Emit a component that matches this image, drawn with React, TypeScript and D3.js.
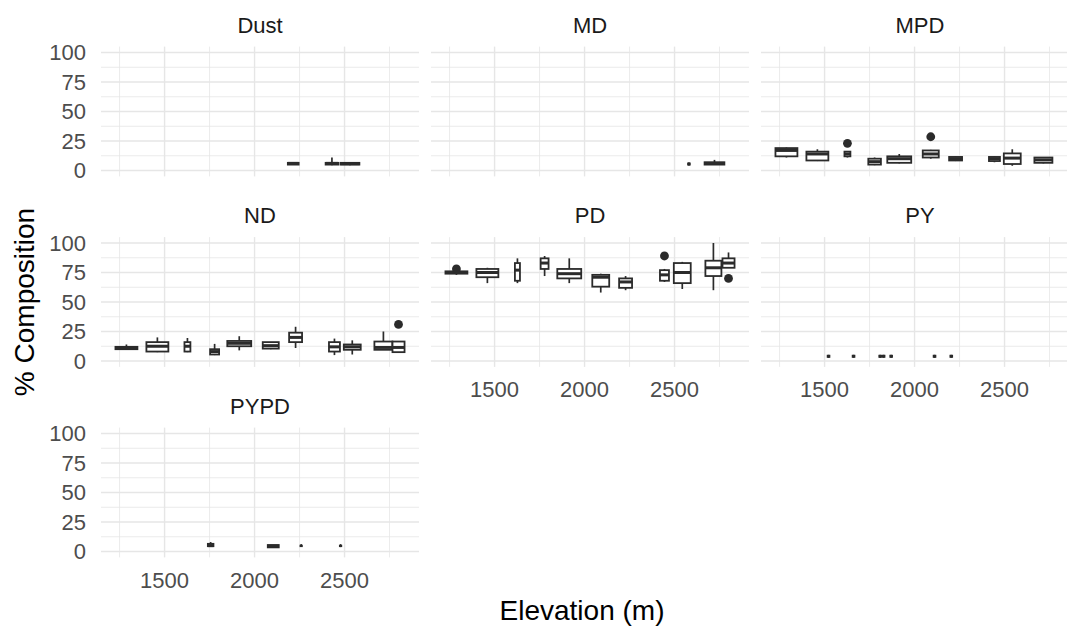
import React from "react";
import * as d3 from "d3";

type Box = { x: number; w: number; lo: number; q1: number; med: number; q3: number; hi: number; out?: number[] };

const panelNames = ["Dust", "MD", "MPD", "ND", "PD", "PY", "PYPD"];
const xTicks = [1500, 2000, 2500];
const xMinorTicks = [1250, 1750, 2250, 2750];
const yTicks = [0, 25, 50, 75, 100];
const yMinorTicks = [12.5, 37.5, 62.5, 87.5];

const dustBoxes: Box[] = [
  { x: 2215, w: 60, lo: 5, q1: 5, med: 6, q3: 6.5, hi: 7 },
  { x: 2430, w: 70, lo: 4.5, q1: 5, med: 6, q3: 6.5, hi: 11 },
  { x: 2530, w: 105, lo: 4.5, q1: 5, med: 5.8, q3: 6.5, hi: 7 },
];
const mdBoxes: Box[] = [
  { x: 2580, w: 10, lo: 4.5, q1: 5, med: 5.5, q3: 6, hi: 6.5 },
  { x: 2722, w: 110, lo: 4.7, q1: 5, med: 6, q3: 7, hi: 9 },
];
const mpdBoxes: Box[] = [
  { x: 1288, w: 122, lo: 11, q1: 12, med: 17, q3: 19, hi: 19.5 },
  { x: 1460, w: 122, lo: 8, q1: 8.5, med: 14, q3: 16, hi: 18 },
  { x: 1627, w: 33, lo: 11, q1: 12, med: 14, q3: 16, hi: 16.5, out: [23] },
  { x: 1778, w: 70, lo: 4.5, q1: 5, med: 7.5, q3: 10, hi: 11 },
  { x: 1915, w: 133, lo: 6, q1: 6.5, med: 10, q3: 12, hi: 14 },
  { x: 2090, w: 89, lo: 10, q1: 11, med: 14, q3: 17, hi: 17.5, out: [28.6] },
  { x: 2228, w: 72, lo: 8, q1: 8.5, med: 10, q3: 11.5, hi: 12 },
  { x: 2444, w: 61, lo: 7, q1: 8, med: 10, q3: 11.5, hi: 12 },
  { x: 2543, w: 94, lo: 4, q1: 5.5, med: 10.5, q3: 14.5, hi: 18 },
  { x: 2716, w: 100, lo: 6, q1: 6.5, med: 9, q3: 11, hi: 11 },
];
const ndBoxes: Box[] = [
  { x: 1288, w: 122, lo: 9.5, q1: 10, med: 11, q3: 12, hi: 14 },
  { x: 1460, w: 122, lo: 7.5, q1: 8, med: 12.5, q3: 16, hi: 20 },
  { x: 1627, w: 33, lo: 7.5, q1: 8, med: 12.5, q3: 16, hi: 19.5 },
  { x: 1778, w: 50, lo: 5, q1: 5.5, med: 8, q3: 10, hi: 14.5 },
  { x: 1915, w: 133, lo: 9, q1: 12.5, med: 15, q3: 17, hi: 21 },
  { x: 2090, w: 89, lo: 10, q1: 10.5, med: 13, q3: 16, hi: 16 },
  { x: 2228, w: 72, lo: 11, q1: 16, med: 20, q3: 24, hi: 29 },
  { x: 2444, w: 61, lo: 5, q1: 8, med: 12, q3: 16, hi: 19 },
  { x: 2543, w: 94, lo: 5.5, q1: 9.5, med: 12, q3: 14, hi: 17.5 },
  { x: 2716, w: 100, lo: 9.5, q1: 9.5, med: 11.5, q3: 16.5, hi: 25 },
  { x: 2800, w: 67, lo: 7.5, q1: 7.5, med: 11.5, q3: 16.5, hi: 16.5, out: [31] },
];
const pdBoxes: Box[] = [
  { x: 1288, w: 122, lo: 73, q1: 74, med: 75, q3: 76, hi: 76, out: [78] },
  { x: 1460, w: 122, lo: 66, q1: 71, med: 75, q3: 78, hi: 79 },
  { x: 1627, w: 28, lo: 66, q1: 68, med: 77, q3: 83, hi: 87 },
  { x: 1778, w: 44, lo: 72, q1: 78, med: 83, q3: 87, hi: 89 },
  { x: 1915, w: 133, lo: 66, q1: 70, med: 74, q3: 78, hi: 87 },
  { x: 2090, w: 94, lo: 58, q1: 63, med: 71, q3: 73, hi: 74 },
  { x: 2228, w: 72, lo: 60, q1: 62, med: 67, q3: 70, hi: 72 },
  { x: 2444, w: 50, lo: 67, q1: 68, med: 73, q3: 77, hi: 78, out: [89] },
  { x: 2543, w: 94, lo: 61, q1: 66, med: 75, q3: 83, hi: 84 },
  { x: 2716, w: 89, lo: 60, q1: 72, med: 79, q3: 85, hi: 100 },
  { x: 2800, w: 67, lo: 79, q1: 79, med: 83, q3: 87, hi: 92, out: [70] },
];
const pyBoxes: Box[] = [
  { x: 1522, w: 10, lo: 3, q1: 3.5, med: 4, q3: 4.5, hi: 5 },
  { x: 1661, w: 10, lo: 3.5, q1: 3.5, med: 4, q3: 4.5, hi: 4.5 },
  { x: 1809, w: 10, lo: 3, q1: 3.5, med: 4, q3: 4.5, hi: 5 },
  { x: 1828, w: 10, lo: 3.5, q1: 3.5, med: 4, q3: 4.5, hi: 4.5 },
  { x: 1870, w: 10, lo: 3.5, q1: 3.5, med: 4, q3: 4.5, hi: 4.5 },
  { x: 2111, w: 10, lo: 3, q1: 3.5, med: 4, q3: 4.5, hi: 5 },
  { x: 2204, w: 10, lo: 3.5, q1: 3.5, med: 4, q3: 4.5, hi: 4.5 },
];
const pypdBoxes: Box[] = [
  { x: 1756, w: 31, lo: 4, q1: 4.5, med: 5, q3: 6.5, hi: 8 },
  { x: 2104, w: 61, lo: 3.5, q1: 3.5, med: 4.5, q3: 5.5, hi: 5.5 },
  { x: 2259, w: 8, lo: 4.5, q1: 4.5, med: 5, q3: 5, hi: 5.5 },
  { x: 2478, w: 8, lo: 4.5, q1: 4.5, med: 5, q3: 5, hi: 5.5 },
];

const panelBoxes: Box[][] = [dustBoxes, mdBoxes, mpdBoxes, ndBoxes, pdBoxes, pyBoxes, pypdBoxes];

const W = 1067;
const H = 630;
const NCOL = 3;
const PANEL_W = 318;
const COL_STEP = 330;
const LEFT = 101;
const TOP = 46.6;
const PANEL_H = 129.8;
const ROW_STEP = 190.5;
const FONT = "'Liberation Sans', Arial, Helvetica, sans-serif";
const GRID = "#E6E6E6";
const INK = "#2B2B2B";

const allBoxes = panelBoxes.flat();
const xLo = d3.min(allBoxes, (b) => b.x - b.w / 2) as number;
const xHi = d3.max(allBoxes, (b) => b.x + b.w / 2) as number;
const xPad = (xHi - xLo) * 0.05;

export default function App() {
  const x = d3.scaleLinear().domain([xLo - xPad, xHi + xPad]).range([0, PANEL_W]);
  const y = d3.scaleLinear().domain([-5, 105]).range([PANEL_H, 0]);
  const nRows = Math.ceil(panelNames.length / NCOL);

  return (
    <svg width={W} height={H} style={{ display: "block", position: "absolute", left: 0, top: 0, background: "#fff" }} fontFamily={FONT}>
      <rect width={W} height={H} fill="#fff" />
      {panelNames.map((name, i) => {
        const col = i % NCOL;
        const row = Math.floor(i / NCOL);
        const px = LEFT + col * COL_STEP;
        const py = TOP + row * ROW_STEP;
        const isBottom = row === nRows - 1 || i + NCOL >= panelNames.length;
        const boxes = panelBoxes[i];
        return (
          <g key={name} transform={`translate(${px},${py})`}>
            {yMinorTicks.map((t) => (
              <line key={"ym" + t} x1={0} x2={PANEL_W} y1={y(t)} y2={y(t)} stroke={GRID} strokeWidth={0.8} />
            ))}
            {xMinorTicks.map((t) => (
              <line key={"xm" + t} x1={x(t)} x2={x(t)} y1={0} y2={PANEL_H} stroke={GRID} strokeWidth={0.8} />
            ))}
            {yTicks.map((t) => (
              <line key={"y" + t} x1={0} x2={PANEL_W} y1={y(t)} y2={y(t)} stroke={GRID} strokeWidth={1.4} />
            ))}
            {xTicks.map((t) => (
              <line key={"x" + t} x1={x(t)} x2={x(t)} y1={0} y2={PANEL_H} stroke={GRID} strokeWidth={1.4} />
            ))}
            <text x={PANEL_W / 2} y={-14} textAnchor="middle" fontSize={22} fill="#1A1A1A">
              {name}
            </text>
            {col === 0 &&
              yTicks.map((t) => (
                <text key={"yl" + t} x={-15} y={y(t)} dy="0.36em" textAnchor="end" fontSize={22} fill="#4D4D4D">
                  {t}
                </text>
              ))}
            {isBottom &&
              xTicks.map((t) => (
                <text key={"xl" + t} x={x(t)} y={PANEL_H + 30.5} textAnchor="middle" fontSize={22} fill="#4D4D4D">
                  {t}
                </text>
              ))}
            {boxes.map((b, j) => {
              const x0 = x(b.x - b.w / 2);
              const x1 = x(b.x + b.w / 2);
              const cx = x(b.x);
              return (
                <g key={j}>
                  <line x1={cx} x2={cx} y1={y(b.hi)} y2={y(b.q3)} stroke={INK} strokeWidth={1.7} />
                  <line x1={cx} x2={cx} y1={y(b.q1)} y2={y(b.lo)} stroke={INK} strokeWidth={1.7} />
                  <rect
                    x={x0}
                    y={y(b.q3)}
                    width={x1 - x0}
                    height={Math.max(0, y(b.q1) - y(b.q3))}
                    fill="#fff"
                    stroke={INK}
                    strokeWidth={1.8}
                  />
                  <line x1={x0} x2={x1} y1={y(b.med)} y2={y(b.med)} stroke={INK} strokeWidth={3} />
                  {(b.out || []).map((o, k) => (
                    <circle key={k} cx={cx} cy={y(o)} r={4.4} fill={INK} />
                  ))}
                </g>
              );
            })}
          </g>
        );
      })}
      <text
        transform={`translate(34,${TOP + (2 * ROW_STEP + PANEL_H) / 2}) rotate(-90)`}
        textAnchor="middle"
        fontSize={28}
        fill="#000"
      >
        % Composition
      </text>
      <text x={582} y={620} textAnchor="middle" fontSize={28} fill="#000">
        Elevation (m)
      </text>
    </svg>
  );
}
